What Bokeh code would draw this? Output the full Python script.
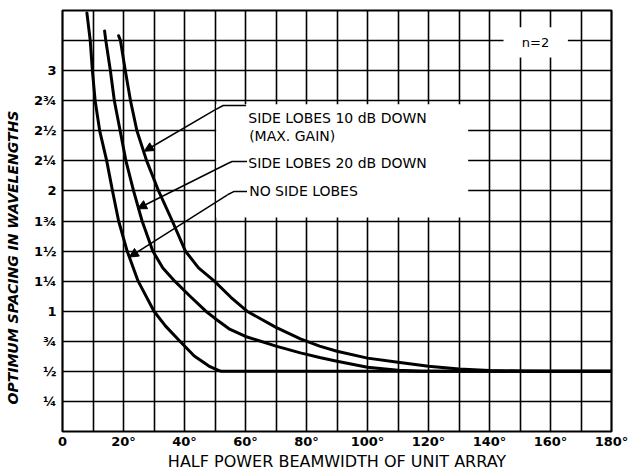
from bokeh.plotting import figure
from bokeh.models import FixedTicker, Label, Arrow, NormalHead, BoxAnnotation
from bokeh.embed import file_html
from bokeh.resources import INLINE

# ---- data ----
no_side_x = [8.0, 9.1, 9.8, 10.7, 12.2, 14.5, 16.4, 18.4, 21.2, 24.8, 30.0, 33.8, 38.5, 43.2, 48.0, 50.0, 52.0, 180.0]
no_side_y = [3.48, 3.25, 3.0, 2.75, 2.5, 2.25, 2.0, 1.75, 1.5, 1.25, 1.0, 0.876, 0.75, 0.627, 0.544, 0.52, 0.5, 0.5]

sl20_x = [13.8, 14.2, 15.7, 17.0, 18.9, 20.8, 23.3, 26.1, 29.6, 32.9, 36.8, 42.0, 47.0, 50.0, 54.6, 60.0, 70.0, 78.0, 84.3, 90.0, 100.0, 110.0, 118.0, 180.0]
sl20_y = [3.33, 3.25, 3.0, 2.75, 2.5, 2.25, 2.0, 1.75, 1.5, 1.36, 1.25, 1.12, 1.0, 0.94, 0.854, 0.79, 0.71, 0.654, 0.615, 0.584, 0.534, 0.51, 0.5, 0.5]

sl10_x = [18.4, 19.0, 20.6, 22.3, 24.4, 27.6, 31.5, 36.0, 40.3, 44.6, 49.8, 55.2, 60.5, 70.0, 78.0, 84.3, 90.0, 100.0, 110.0, 120.0, 130.0, 140.0, 150.0, 160.0, 180.0]
sl10_y = [3.29, 3.25, 3.0, 2.75, 2.5, 2.25, 2.0, 1.75, 1.5, 1.36, 1.25, 1.116, 1.0, 0.866, 0.77, 0.71, 0.667, 0.61, 0.576, 0.543, 0.52, 0.508, 0.502, 0.5, 0.5]

x_ticks = [0, 20, 40, 60, 80, 100, 120, 140, 160, 180]
x_tick_labels = ["0", "20°", "40°", "60°", "80°", "100°", "120°", "140°", "160°", "180°"]
y_ticks = [0.25, 0.5, 0.75, 1.0, 1.25, 1.5, 1.75, 2.0, 2.25, 2.5, 2.75, 3.0]
y_tick_labels = ["¼", "½", "¾", "1", "1¼", "1½", "1¾", "2", "2¼", "2½", "2¾", "3"]
x_grid = [10, 20, 30, 40, 50, 60, 70, 80, 90, 100, 110, 120, 130, 140, 150, 160, 170]
y_grid = [0.25, 0.5, 0.75, 1.0, 1.25, 1.5, 1.75, 2.0, 2.25, 2.5, 2.75, 3.0, 3.25]

labels = ["SIDE LOBES 10 dB DOWN", "(MAX. GAIN)", "SIDE LOBES 20 dB DOWN", "NO SIDE LOBES"]
label_x = [60.9, 61.2, 60.9, 61.2]
label_y = [2.603, 2.458, 2.23, 1.998]

# leaders: text end -> bend -> arrow tip
leaders = [
    [(60.2, 2.71), (52.7, 2.71), (49.7, 2.67), (26.8, 2.33)],
    [(60.5, 2.245), (55.6, 2.245), (54.0, 2.226), (24.6, 1.852)],
    [(60.5, 1.996), (56.3, 1.996), (54.1, 1.968), (21.9, 1.45)],
]

FONT = "DejaVu Sans"
NBSP = "\u00a0"

p = figure(width=629, height=473, x_range=(0, 180), y_range=(0, 3.5),
           output_backend="svg", toolbar_location=None,
           min_border_left=62, min_border_right=18, min_border_top=10, min_border_bottom=41)
p.outline_line_color = "black"
p.outline_line_width = 2.2
p.background_fill_color = "white"
p.border_fill_color = "white"

# grid
p.xgrid.ticker = FixedTicker(ticks=x_grid)
p.ygrid.ticker = FixedTicker(ticks=y_grid)
for g in (p.xgrid, p.ygrid):
    g.grid_line_color = "black"
    g.grid_line_width = 1.6

# axes
p.xaxis.ticker = FixedTicker(ticks=x_ticks)
p.xaxis.major_label_overrides = {t: l for t, l in zip(x_ticks, x_tick_labels)}
p.yaxis.ticker = FixedTicker(ticks=y_ticks)
p.yaxis.major_label_overrides = {t: l for t, l in zip(y_ticks, y_tick_labels)}
for ax in (p.xaxis, p.yaxis):
    ax.axis_line_color = None
    ax.major_tick_line_color = None
    ax.minor_tick_line_color = None
    ax.major_tick_out = 0
    ax.major_tick_in = 0
    ax.major_label_text_font = FONT
    ax.major_label_text_font_style = "bold"
    ax.major_label_text_font_size = "13px"
    ax.major_label_text_color = "black"
p.xaxis.major_label_standoff = 2
p.yaxis.major_label_standoff = 6
p.xaxis.axis_label = "HALF POWER BEAMWIDTH OF UNIT ARRAY"
p.xaxis.axis_label_text_font = FONT
p.xaxis.axis_label_text_font_style = "normal"
p.xaxis.axis_label_text_font_size = "16px"
p.xaxis.axis_label_text_color = "black"
p.xaxis.axis_label_standoff = 0

p.yaxis.axis_label = "OPTIMUM SPACING IN WAVELENGTHS" + NBSP * 15
p.yaxis.axis_label_text_font = FONT
p.yaxis.axis_label_text_font_style = "bold italic"
p.yaxis.axis_label_text_font_size = "14px"
p.yaxis.axis_label_text_color = "black"
p.yaxis.axis_label_standoff = 10

# white areas behind the legend text and n=2
p.add_layout(BoxAnnotation(left=50.4, right=133.0, bottom=1.78, top=2.72,
                           fill_color="white", fill_alpha=1.0, line_color=None, level="underlay"))
p.add_layout(BoxAnnotation(left=144.6, right=165.7, bottom=3.11, top=3.36,
                           fill_color="white", fill_alpha=1.0, line_color=None, level="underlay"))

# curves
for xs, ys in ((no_side_x, no_side_y), (sl20_x, sl20_y), (sl10_x, sl10_y)):
    p.line(xs, ys, line_color="black", line_width=3, line_join="round", line_cap="round")

# leaders with arrowheads
for pts in leaders:
    p.line([q[0] for q in pts[:3]], [q[1] for q in pts[:3]], line_color="black", line_width=1.5)
    p.add_layout(Arrow(end=NormalHead(size=9, fill_color="black", line_color="black", line_width=1),
                       x_start=pts[2][0], y_start=pts[2][1], x_end=pts[3][0], y_end=pts[3][1],
                       line_color="black", line_width=1.5))

for t, lx, ly in zip(labels, label_x, label_y):
    p.add_layout(Label(x=lx, y=ly, text=t, text_font=FONT, text_font_size="14px",
                       text_align="left", text_baseline="middle", text_color="black"))

p.add_layout(Label(x=155.1, y=3.238, text="n=2", text_font=FONT, text_font_size="13px",
                   text_align="center", text_baseline="middle", text_color="black"))

open("out.html", "w").write(file_html(p, INLINE))
